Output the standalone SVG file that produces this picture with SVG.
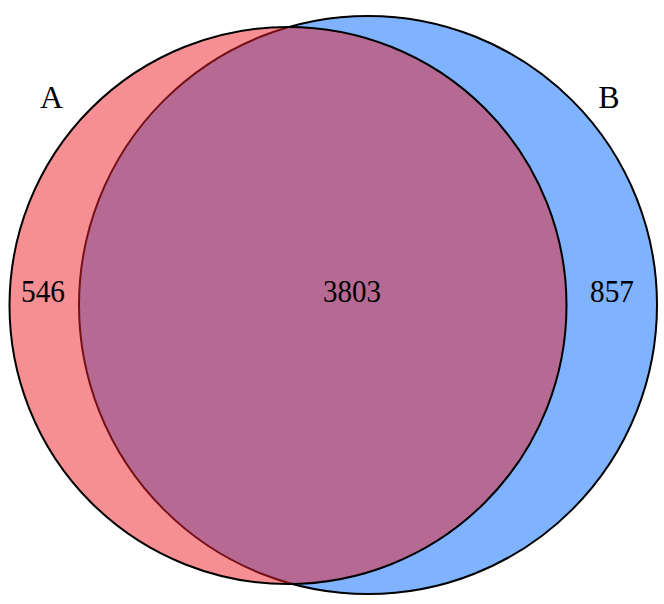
<svg xmlns="http://www.w3.org/2000/svg" width="664" height="604" viewBox="0 0 664 604">
<style>
.set{stroke:#000;stroke-width:2;fill-opacity:0.5}
.lbl{font-family:"Liberation Serif","Times New Roman",serif;font-size:32px;fill:#000;text-anchor:middle}
</style>
<rect width="664" height="604" fill="#fff"/>
<g id="setB">
<circle class="set" cx="368" cy="305" r="289" fill="#0066ff"/>
</g>
<g id="setA">
<circle class="set" cx="288" cy="305.5" r="278.5" fill="#ec1f27"/>
</g>
<g id="labels">
<text class="lbl" x="51.5" y="107.5">A</text>
<text class="lbl" x="609" y="107.5">B</text>
<text class="lbl" x="43" y="301.5" textLength="44" lengthAdjust="spacingAndGlyphs">546</text>
<text class="lbl" x="352" y="301.5" textLength="58" lengthAdjust="spacingAndGlyphs">3803</text>
<text class="lbl" x="612" y="301.5" textLength="44" lengthAdjust="spacingAndGlyphs">857</text>
</g>
</svg>
